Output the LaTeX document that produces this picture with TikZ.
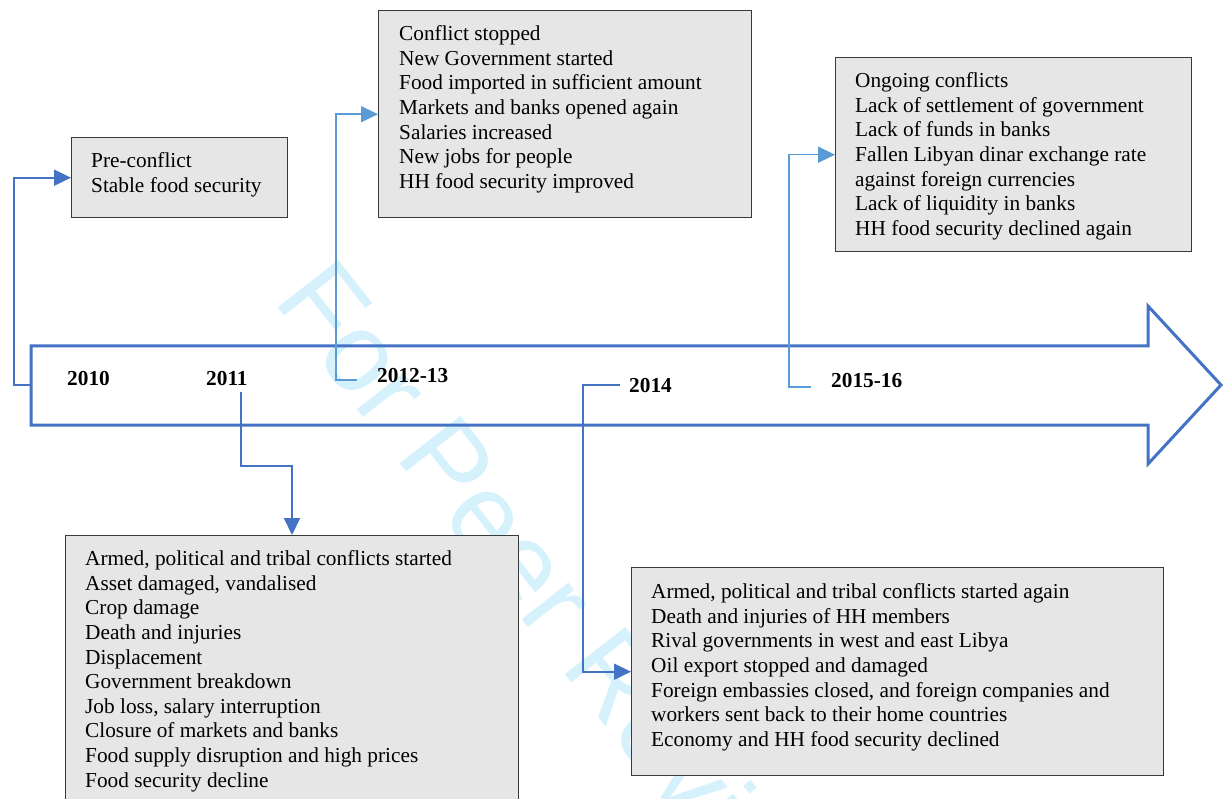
\documentclass[tikz,border=0pt]{standalone}
\usepackage{fontspec}
\setmainfont{Liberation Serif}
\newfontfamily\wmfont{Liberation Sans}
\usetikzlibrary{arrows.meta}
\definecolor{midblue}{HTML}{4472C4}
\definecolor{liteblue}{HTML}{5B9BD5}
\definecolor{boxgray}{HTML}{E7E6E6}
\definecolor{boxline}{HTML}{3A3A3A}
\definecolor{wmcyan}{HTML}{D5F1FC}
\begin{document}
\begin{tikzpicture}[x=1pt,y=-1pt,
  infobox/.style={draw=boxline, line width=1.4pt, fill=boxgray, anchor=north west, inner sep=0pt},
  txt/.style={anchor=north west, inner sep=0pt, align=left, font=\fontsize{21.3}{24.6}\selectfont},
  yr/.style={anchor=base west, inner sep=0pt, font=\fontsize{21.3}{24}\selectfont\bfseries},
  wm/.style={anchor=base west, inner sep=0pt, text=wmcyan, rotate=-52, font=\fontsize{112}{112}\wmfont},
  bigarrow/.style={draw=midblue, line width=3pt, line join=miter},
  darkconn/.style={draw=midblue, line width=2pt, -{Triangle[length=17pt,width=16pt]}},
  liteconn/.style={draw=liteblue, line width=1.5pt, -{Triangle[length=17pt,width=16pt]}}
]
\useasboundingbox (0,0) rectangle (1223,799);
\clip (0,0) rectangle (1223,799);
% watermark
\node[wm] (wm) at (272,300) {For Peer Review};
% timeline arrow
\draw[bigarrow] (31,346) -- (1148,346) -- (1148,306) -- (1221,385) -- (1148,464) -- (1148,425) -- (31,425) -- cycle;
\coordinate (a2010) at (31,385);
% boxes
\node[infobox, minimum width=216pt, minimum height=80pt] (b1) at (71,137) {};
\node[txt] (t1) at (91,152.5) {Pre-conflict\\Stable food security};
\node[infobox, minimum width=373pt, minimum height=207pt] (b2) at (378,10) {};
\node[txt] (t2) at (399,25.5) {Conflict stopped\\New Government started\\Food imported in sufficient amount\\Markets and banks opened again\\Salaries increased\\New jobs for people\\HH food security improved};
\node[infobox, minimum width=356pt, minimum height=194pt] (b3) at (835,57) {};
\node[txt] (t3) at (855,72.5) {Ongoing conflicts\\Lack of settlement of government\\Lack of funds in banks\\Fallen Libyan dinar exchange rate\\against foreign currencies\\Lack of liquidity in banks\\HH food security declined again};
\node[infobox, minimum width=453pt, minimum height=300pt] (b4) at (65,535) {};
\node[txt] (t4) at (85,550.5) {Armed, political and tribal conflicts started\\Asset damaged, vandalised\\Crop damage\\Death and injuries\\Displacement\\Government breakdown\\Job loss, salary interruption\\Closure of markets and banks\\Food supply disruption and high prices\\Food security decline};
\node[infobox, minimum width=532pt, minimum height=208pt] (b5) at (631,567) {};
\node[txt] (t5) at (651,583.5) {Armed, political and tribal conflicts started again\\Death and injuries of HH members\\Rival governments in west and east Libya\\Oil export stopped and damaged\\Foreign embassies closed, and foreign companies and\\workers sent back to their home countries\\Economy and HH food security declined};
% year labels
\node[yr] (y2010) at (67,385) {2010};
\node[yr] (y2011) at (206,385) {2011};
\node[yr] (y2012) at (377,382) {2012-13};
\node[yr] (y2014) at (629,392) {2014};
\node[yr] (y2015) at (831,387) {2015-16};
% connectors
\coordinate (e2010) at (14,385);
\draw[darkconn] (a2010) -- (e2010) |- (b1.west);
\coordinate (s2011) at (241,392);
\coordinate (k2011) at (292,466);
\draw[darkconn] (s2011) |- (k2011) -- (k2011 |- b4.north);
\coordinate (s2012) at (357,380);
\coordinate (e2012) at (336,380);
\draw[liteconn] (s2012) -- (e2012) |- (b2.west);
\coordinate (s2014) at (620,385);
\coordinate (e2014) at (583,385);
\draw[darkconn] (s2014) -- (e2014) |- (b5.west);
\coordinate (s2015) at (811,387);
\coordinate (e2015) at (789,387);
\draw[liteconn] (s2015) -- (e2015) |- (b3.west);
\end{tikzpicture}
\end{document}
